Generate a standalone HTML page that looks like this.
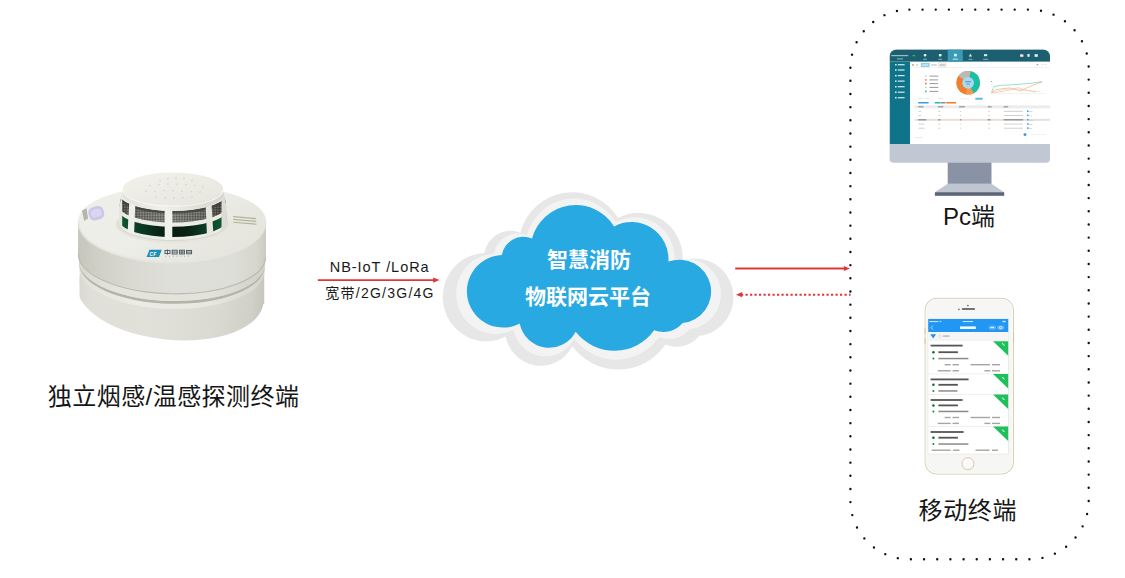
<!DOCTYPE html>
<html lang="zh-CN">
<head>
<meta charset="utf-8">
<title>智慧消防物联网云平台</title>
<style>
html,body{margin:0;padding:0;background:#fff;}
body{width:1125px;height:578px;overflow:hidden;position:relative;}
svg{position:absolute;left:0;top:0;display:block;}
text{font-family:"Liberation Sans","Noto Sans CJK SC",sans-serif;}
.cn{font-family:"Liberation Sans","Noto Sans CJK SC",sans-serif;}
</style>
</head>
<body>
<svg width="1125" height="578" viewBox="0 0 1125 578">
<defs>
<linearGradient id="gBody" x1="0" y1="0" x2="1" y2="0">
<stop offset="0" stop-color="#c6c6bd"/><stop offset="0.1" stop-color="#cfcfc6"/><stop offset="0.3" stop-color="#dadad3"/><stop offset="0.5" stop-color="#dfdfd9"/><stop offset="0.82" stop-color="#deded8"/><stop offset="0.95" stop-color="#d6d6ce"/><stop offset="1" stop-color="#cbcbc2"/>
</linearGradient>
<linearGradient id="gBase" x1="0" y1="0" x2="1" y2="0">
<stop offset="0" stop-color="#d8d8d0"/><stop offset="0.08" stop-color="#e0e0d9"/><stop offset="0.4" stop-color="#e1e1da"/><stop offset="0.75" stop-color="#dadad2"/><stop offset="0.94" stop-color="#d0d0c8"/><stop offset="1" stop-color="#c6c6bd"/>
</linearGradient>
<linearGradient id="gTop" x1="0" y1="0" x2="1" y2="0.6">
<stop offset="0" stop-color="#efefe9"/><stop offset="0.5" stop-color="#eeeee8"/><stop offset="1" stop-color="#e5e5de"/>
</linearGradient>
<linearGradient id="gCap" x1="0" y1="0" x2="1" y2="1">
<stop offset="0" stop-color="#f2f2ec"/><stop offset="1" stop-color="#e6e6de"/>
</linearGradient>
<linearGradient id="gRim" x1="0" y1="0" x2="1" y2="0">
<stop offset="0" stop-color="#e2e2da"/><stop offset="0.4" stop-color="#f0f0ea"/><stop offset="1" stop-color="#d6d6cd"/>
</linearGradient>
<linearGradient id="gMid" x1="0" y1="0" x2="1" y2="0">
<stop offset="0" stop-color="#d8d8cf"/><stop offset="0.2" stop-color="#e4e4dd"/><stop offset="0.7" stop-color="#e3e3dc"/><stop offset="1" stop-color="#d0d0c7"/>
</linearGradient>
<linearGradient id="gBev" x1="0" y1="0" x2="1" y2="0">
<stop offset="0" stop-color="#e2e2da"/><stop offset="0.3" stop-color="#ecece6"/><stop offset="0.7" stop-color="#e8e8e1"/><stop offset="1" stop-color="#d6d6cd"/>
</linearGradient>
<pattern id="pMesh" width="1.6" height="1.6" patternUnits="userSpaceOnUse"><rect width="1.6" height="1.6" fill="none"/><rect x="0" y="0" width="0.8" height="0.8" fill="#2e2f2a" opacity="0.55"/><rect x="0.8" y="0.8" width="0.8" height="0.8" fill="#d2d2ca" opacity="0.35"/></pattern>
<linearGradient id="gMesh" x1="0" y1="0" x2="1" y2="0">
<stop offset="0" stop-color="#3c3f37"/><stop offset="0.2" stop-color="#6e6f66"/><stop offset="0.5" stop-color="#7f8078"/><stop offset="0.8" stop-color="#63645c"/><stop offset="1" stop-color="#30332d"/>
</linearGradient>
<linearGradient id="gSlot" x1="0" y1="0" x2="1" y2="0">
<stop offset="0" stop-color="#0f5c33"/><stop offset="0.14" stop-color="#0b4226"/><stop offset="0.45" stop-color="#091b12"/><stop offset="0.62" stop-color="#0a1f14"/><stop offset="0.86" stop-color="#0c4528"/><stop offset="1" stop-color="#116236"/>
</linearGradient>
<clipPath id="baseClip"><rect x="79.5" y="260" width="185" height="90"/></clipPath>
<clipPath id="cageClip"><path d="M122.5 192 L119 207 L119 223 A53.8 17 0 0 0 226.6 223 L226.6 207 L223.5 192 Z"/></clipPath>
</defs>
<rect width="1125" height="578" fill="#ffffff"/>

<!-- dotted container -->
<rect id="dotbox" x="850.4" y="9.6" width="238.3" height="549.7" rx="59" ry="59" fill="none" stroke="#111" stroke-width="2.4" stroke-linecap="round" stroke-dasharray="0 13.167"/>

<!-- left arrow -->
<g id="arrowL">
<line x1="317.8" y1="280.1" x2="435" y2="280.1" stroke="#e0363b" stroke-width="1.8"/>
<path d="M433.2 277.4 L439.6 280.1 L433.2 282.8 Z" fill="#e0363b"/>
</g>
<text x="379.7" y="272.1" font-size="14.5" text-anchor="middle" fill="#1a1a1a" letter-spacing="0.95">NB-IoT /LoRa</text>
<text x="380" y="297.9" font-size="14" text-anchor="middle" fill="#1a1a1a" letter-spacing="1.25">宽带/2G/3G/4G</text>

<!-- right arrows -->
<g id="arrowR">
<line x1="735.2" y1="268.5" x2="846" y2="268.5" stroke="#e0363b" stroke-width="1.9"/>
<path d="M843.8 265.9 L850 268.5 L843.8 271.1 Z" fill="#e0363b"/>
<line x1="741" y1="294.7" x2="850.6" y2="294.7" stroke="#e0363b" stroke-width="1.9" stroke-dasharray="2.2 2.3"/>
<path d="M742.2 292.1 L736 294.7 L742.2 297.3 Z" fill="#e0363b"/>
</g>

<!-- labels -->
<text x="173.6" y="404.5" font-size="24" letter-spacing="0.45" text-anchor="middle" fill="#161616">独立烟感/温感探测终端</text>
<text x="969" y="225" font-size="24" text-anchor="middle" fill="#161616">Pc端</text>
<text x="967.8" y="518.5" font-size="24" letter-spacing="0.6" text-anchor="middle" fill="#161616">移动终端</text>

<!--CLOUD-->
<g id="cloud">
<path id="cl3" transform="translate(588.7 280.8) scale(1.19 1.217) translate(-589.5 -277.9)" d="M501.8 255 A22 22 0 0 1 532 238.5 A45.3 45.3 0 0 1 614.1 226.4 A37 37 0 0 1 668.4 261.6 A31.8 31.8 0 1 1 682.6 323.1 A25 25 0 0 1 654.1 330.3 A48.7 48.7 0 0 1 575.7 331.7 A30 30 0 0 1 519.7 323.6 A36.3 36.3 0 1 1 501.8 255 Z" fill="#e7e7e7"/>
<path id="cl2" transform="translate(589.1 279) scale(1.084 1.106) translate(-589.5 -277.9)" d="M501.8 255 A22 22 0 0 1 532 238.5 A45.3 45.3 0 0 1 614.1 226.4 A37 37 0 0 1 668.4 261.6 A31.8 31.8 0 1 1 682.6 323.1 A25 25 0 0 1 654.1 330.3 A48.7 48.7 0 0 1 575.7 331.7 A30 30 0 0 1 519.7 323.6 A36.3 36.3 0 1 1 501.8 255 Z" fill="#f3f3f3"/>
<path id="cl1" d="M501.8 255 A22 22 0 0 1 532 238.5 A45.3 45.3 0 0 1 614.1 226.4 A37 37 0 0 1 668.4 261.6 A31.8 31.8 0 1 1 682.6 323.1 A25 25 0 0 1 654.1 330.3 A48.7 48.7 0 0 1 575.7 331.7 A30 30 0 0 1 519.7 323.6 A36.3 36.3 0 1 1 501.8 255 Z" fill="#29a9e1"/>
<text x="589" y="266.8" font-size="21" font-weight="bold" text-anchor="middle" fill="#ffffff">智慧消防</text>
<text x="588" y="303.8" font-size="21" font-weight="bold" text-anchor="middle" fill="#ffffff">物联网云平台</text>
</g>
<!--DETECTOR-->
<g id="detector">
<!-- base -->
<g clip-path="url(#baseClip)">
<path d="M79.5 266 L264.5 268 L264.5 304 L79.5 285 Z" fill="url(#gBase)"/>
<ellipse cx="170.4" cy="293.5" rx="93.6" ry="46.3" transform="rotate(5.7 170.4 293.5)" fill="url(#gBase)"/>
</g>
<!-- base top bevel -->
<path d="M79.5 262.95 A92.5 39 1 0 0 264.5 266.25 L264.5 271.15 A92.5 39.5 1 0 1 79.5 267.85 Z" fill="url(#gBev)"/>
<!-- seam 2 shadow -->
<path d="M79.2 260.85 A92.8 38.5 1 0 0 264.8 264.15 L264.8 266.45 A92.8 39 1 0 1 79.2 263.15 Z" fill="#b4b4aa"/>
<!-- middle ring -->
<path d="M78.8 252.85 A93.2 38.5 1 0 0 265.2 256.15 L265.2 264.15 A93.2 38.5 1 0 1 78.8 260.85 Z" fill="url(#gMid)"/>
<!-- upper body wall -->
<path d="M78 221 L78 252.85 A94 38.5 1 0 0 266 256.15 L266 221 Z" fill="url(#gBody)"/>
<path d="M78.4 253.65 A93.6 38.5 1 0 0 265.6 256.95" fill="none" stroke="#b9b9af" stroke-width="1.1"/>
<!-- top surface with shoulder -->
<path d="M78 221 A94 35 0 0 1 266 221 A94 41.5 0 0 1 78 221 Z" fill="url(#gTop)"/>
<path d="M78.6 222 A93.4 40.5 0 0 0 265.4 222" fill="none" stroke="#e6e6df" stroke-width="2" opacity="0.9"/>
<!-- recess around cage -->
<ellipse cx="172.8" cy="224.5" rx="57.5" ry="18.6" fill="#e6e6de"/>
<ellipse cx="172.8" cy="223.6" rx="55.2" ry="17.6" fill="#d9d9d0"/>
<!-- cage -->
<g clip-path="url(#cageClip)">
<rect x="115" y="190" width="116" height="54" fill="#ecece6"/>
<path d="M119.5 194.5 A53.3 16.5 0 0 0 226.1 194.5 L226.1 206.5 A53.3 16 0 0 1 119.5 206.5 Z" fill="url(#gMesh)"/>
<path d="M119.5 194.5 A53.3 16.5 0 0 0 226.1 194.5 L226.1 206.5 A53.3 16 0 0 1 119.5 206.5 Z" fill="url(#pMesh)"/>
<path d="M119.5 194.5 A53.3 16.5 0 0 0 226.1 194.5 L226.1 197 A53.3 16.5 0 0 1 119.5 197 Z" fill="#3c3d37" opacity="0.75"/>
<path d="M119.3 210.5 A53.5 16.3 0 0 0 226.3 210.5 L226.3 220.5 A53.5 16.6 0 0 1 119.3 220.5 Z" fill="url(#gSlot)"/>
<!-- ribs -->
<path d="M129.5 198 L135.4 202 L134 236 L127.6 232 Z" fill="#efefe9"/>
<path d="M164.7 206 L172.3 206 L172.3 242 L164.7 242 Z" fill="#f1f1eb"/>
<path d="M205.5 202 L211.1 198 L213.3 232 L207 236 Z" fill="#e6e6df"/>
<path d="M118 190 L122.2 190 L122.2 230 L118 228 Z" fill="#e6e6df"/>
<path d="M221.5 190 L227 190 L227 228 L221.5 231 Z" fill="#dcdcd4"/>
</g>
<!-- cap -->
<path d="M123 188.8 L122.7 194.5 A50.3 16.5 0 0 0 223.3 194.5 L223 188.8 Z" fill="url(#gRim)"/>
<ellipse cx="173" cy="188.8" rx="50" ry="16.2" fill="url(#gCap)"/>
<path d="M123.2 190 A49.8 16.2 0 0 0 222.8 190" fill="none" stroke="#f8f8f4" stroke-width="1.2" opacity="0.9"/>
<g fill="#d3d3ca">
<circle cx="160" cy="180.5" r="0.85"/><circle cx="168" cy="178.5" r="0.85"/><circle cx="176" cy="178" r="0.85"/><circle cx="184" cy="178.5" r="0.85"/><circle cx="192" cy="180.5" r="0.85"/>
<circle cx="150" cy="185.5" r="0.85"/><circle cx="159" cy="184.5" r="0.85"/><circle cx="168" cy="184" r="0.85"/><circle cx="177" cy="184" r="0.85"/><circle cx="186" cy="184.5" r="0.85"/><circle cx="195" cy="185.5" r="0.85"/><circle cx="203" cy="187" r="0.85"/>
<circle cx="146" cy="191" r="0.85"/><circle cx="155" cy="191.5" r="0.85"/><circle cx="164" cy="190.5" r="0.85"/><circle cx="173" cy="190.5" r="0.85"/><circle cx="182" cy="191" r="0.85"/><circle cx="191" cy="191.5" r="0.85"/><circle cx="200" cy="192" r="0.85"/>
<circle cx="156" cy="197" r="0.85"/><circle cx="165" cy="197.5" r="0.85"/><circle cx="174" cy="198" r="0.85"/><circle cx="183" cy="197.5" r="0.85"/><circle cx="192" cy="196.5" r="0.85"/>
</g>
<!-- LED -->
<rect x="88.5" y="206.5" width="15.5" height="13.5" rx="5.5" ry="5.5" fill="#cbc7ea" transform="rotate(-14 96 213)"/>
<rect x="91" y="209.3" width="10.5" height="7.8" rx="3" ry="3" fill="#d9d6f2" transform="rotate(-14 96 213)"/>
<path d="M82 210.5 L86.5 208.2 L88 218.5 L84.2 221 Z" fill="#b5b5ab"/>
<!-- three lines -->
<g stroke="#b2b39a" stroke-width="1.1" fill="none">
<path d="M233.2 216.6 L256 218.6"/><path d="M233.2 219.4 L256.3 221.4"/><path d="M233.2 222.2 L256.6 224.2"/>
</g>
<!-- logo -->
<path d="M149.5 249.8 L161.8 249.8 L159 257 L146.6 257 Z" fill="#1e8fb8"/>
<text x="149.6" y="255.7" font-size="5" font-weight="bold" font-style="italic" fill="#ffffff">CF</text>
<g fill="none" stroke="#46525c" stroke-width="0.9"><rect x="165" y="250.4" width="5" height="3.2"/><path d="M167.5 249.6 V254.6"/><rect x="172.2" y="250.2" width="5" height="3.8"/><path d="M172.2 252.1 H177.2"/><rect x="179.4" y="250.2" width="5" height="3.8"/><path d="M179.4 252.1 H184.4 M181.9 250.2 V254"/><rect x="186.6" y="250.4" width="5" height="3.4"/><path d="M186.6 252.1 H191.6"/></g>
<g fill="#9aa3aa"><rect x="165.2" y="255.7" width="1" height="0.9"/><rect x="169" y="255.7" width="1" height="0.9"/><rect x="172.8" y="255.7" width="1" height="0.9"/><rect x="176.6" y="255.7" width="1" height="0.9"/><rect x="180.4" y="255.7" width="1" height="0.9"/><rect x="184.2" y="255.7" width="1" height="0.9"/><rect x="188" y="255.7" width="1" height="0.9"/></g>
</g>
<!--MONITOR-->
<g id="monitor">
<!-- stand -->
<rect x="947.7" y="160" width="43.8" height="23.9" fill="#8a93a6"/>
<path d="M947.7 183.8 L991.5 183.8 L1004.2 192.3 L934.9 192.3 Z" fill="#c0c6d1"/>
<rect x="934.9" y="192.2" width="69.3" height="3.6" fill="#5c6577"/>
<!-- body -->
<path d="M889.6 56.4 A7 7 0 0 1 896.6 49.4 L1043 49.4 A7 7 0 0 1 1050 56.4 L1050 158.7 A4 4 0 0 1 1046 162.7 L893.6 162.7 A4 4 0 0 1 889.6 158.7 Z" fill="#c2c8d3"/>
<clipPath id="scrClip"><path d="M889.6 56.4 A7 7 0 0 1 896.6 49.4 L1043 49.4 A7 7 0 0 1 1050 56.4 L1050 144.1 L889.6 144.1 Z"/></clipPath>
<g clip-path="url(#scrClip)">
<rect x="889.6" y="49.4" width="160.4" height="94.7" fill="#ffffff"/>
<rect x="889.6" y="49.4" width="160.4" height="12.2" fill="#1c5f70"/>
<rect x="889.6" y="61.6" width="20.4" height="82.5" fill="#0f7489"/>
<rect x="947.7" y="49.4" width="15.1" height="12.2" fill="#3a9bb7"/>
<!-- header marks -->
<g fill="#8fc0cc">
<rect x="891.2" y="55" width="17" height="1.2"/><rect x="897" y="58.4" width="6" height="1"/>
<rect x="923.2" y="58.8" width="3.6" height="0.9"/><rect x="938.4" y="58.8" width="3.6" height="0.9"/><rect x="968.6" y="58.8" width="3.6" height="0.9"/><rect x="983.2" y="58.8" width="5" height="0.9"/>
</g>
<rect x="952.8" y="58.6" width="5" height="1" fill="#cfe8ef"/>
<g fill="#e6f3f6">
<rect x="923.8" y="54" width="2.6" height="2.4" rx="0.8"/><rect x="938.9" y="54" width="2.6" height="2.4"/><rect x="954" y="53.8" width="2.8" height="2.6"/><path d="M970.4 53.8 L972 56.6 L968.8 56.6 Z"/><rect x="984" y="54.2" width="3.2" height="2"/>
<rect x="1020.2" y="54.2" width="3.2" height="2.6"/><rect x="1027.4" y="54" width="2.2" height="2.8"/><rect x="1034.6" y="54.2" width="3.2" height="2.6"/>
</g>
<rect x="1022.4" y="53.8" width="1.4" height="1.2" fill="#e5483f"/><rect x="1028.8" y="53.8" width="1.2" height="1.2" fill="#f29a3c"/>
<rect x="912.6" y="55" width="2.4" height="1.3" fill="#35c24a"/>
<!-- sidebar items -->
<g fill="#d6ecf1">
<rect x="895" y="64" width="1.6" height="1.5"/><rect x="897.8" y="64.1" width="6.8" height="1.2"/>
<rect x="895" y="69.3" width="1.6" height="1.5"/><rect x="897.8" y="69.4" width="6.8" height="1.2"/>
<rect x="895" y="74.9" width="1.6" height="1.5"/><rect x="897.8" y="75" width="6.8" height="1.2"/>
<rect x="895" y="80.4" width="1.6" height="1.5"/><rect x="897.8" y="80.5" width="6.8" height="1.2"/>
<rect x="895" y="86" width="1.6" height="1.5"/><rect x="897.8" y="86.1" width="6.8" height="1.2"/>
<rect x="895" y="91.5" width="1.6" height="1.5"/><rect x="897.8" y="91.6" width="6.8" height="1.2"/>
<rect x="895" y="97" width="1.6" height="1.5"/><rect x="897.8" y="97.1" width="6.8" height="1.2"/>
</g>
<!-- tab row -->
<rect x="920.8" y="62.8" width="8.8" height="4.4" fill="#8fd0ea"/>
<rect x="938.6" y="62.9" width="7.6" height="4.2" fill="#f2f2f2" stroke="#cfcfcf" stroke-width="0.4"/>
<rect x="912.2" y="64.4" width="1.6" height="1.2" fill="#7a7a7a"/><rect x="915.8" y="64.6" width="2.4" height="0.9" fill="#e8a26a"/>
<rect x="931.2" y="64.5" width="5.6" height="1" fill="#b5b5b5"/><rect x="939.6" y="64.5" width="5.6" height="1" fill="#a8a8a8"/>
<rect x="922.2" y="64.5" width="6" height="1" fill="#e9f6fb"/>
<rect x="1036.6" y="64.2" width="1.6" height="1" fill="#888"/><rect x="1041" y="64.5" width="6" height="0.6" fill="#ddd"/>
<rect x="910" y="67.5" width="140" height="0.5" fill="#e6e6e6"/>
<!-- legend -->
<rect x="925.1" y="75.3" width="1.5" height="1.5" fill="#a9d7f0"/><rect x="925.1" y="79" width="1.5" height="1.7" fill="#f0893a"/><rect x="925.1" y="82.7" width="1.5" height="1.7" fill="#ee6c1f"/><rect x="925.3" y="86.7" width="1.2" height="1.3" fill="#b9b9b9"/><rect x="925.1" y="90.6" width="1.5" height="1.6" fill="#18bfa4"/>
<g fill="#9a9a9a"><rect x="929.4" y="75.6" width="9" height="1"/><rect x="929.4" y="79.4" width="8.6" height="1"/><rect x="929.4" y="83.1" width="8.6" height="1"/><rect x="929.4" y="86.9" width="9" height="1"/><rect x="929.4" y="90.9" width="9" height="1"/></g>
<!-- donut -->
<g transform="translate(968.1 82.8)">
<circle r="11.8" fill="#f07f2c"/>
<path d="M0 0 L2.6 -11.5 A11.8 11.8 0 0 1 5.6 10.4 Z" fill="#18c0a6"/>
<path d="M0 0 L-9.6 -6.9 A11.8 11.8 0 0 1 2.6 -11.5 Z" fill="#b9b9b9"/>
<path d="M0 0 L-2 11.6 A11.8 11.8 0 0 0 5.6 10.4 Z" fill="#f39a4e"/>
<circle r="5.9" fill="#a8d9f2"/>
<rect x="-3" y="-1.6" width="6" height="1" fill="#5a8fb0"/><rect x="-1.6" y="0.8" width="3.2" height="0.9" fill="#5a8fb0"/>
</g>
<!-- line chart -->
<g fill="none" stroke-width="0.5">
<path d="M991.5 92.5 L994 86.5 L1001 85.3 L1012 84.8 L1022 84 L1032 83.2 L1042 81.6" stroke="#38b8b0"/>
<path d="M991.5 92.6 L996 89.6 L1003 88.6 L1010 88 L1016 89.6 L1021 91 L1027 87.8 L1035 84.4 L1042 82" stroke="#e8914a"/>
<path d="M991.5 92.7 L998 90.8 L1006 89.4 L1014 88.8 L1022 89.6 L1030 90.6 L1040 91.6" stroke="#f3c9a0"/>
<path d="M991.5 92.9 L1000 91.8 L1010 90 L1018 87.6 L1026 90.4 L1036 92" stroke="#d9b48a"/>
<path d="M990.8 93.4 L1045.5 93.4" stroke="#e3e3e3"/>
</g>
<circle cx="991.6" cy="81.4" r="0.5" fill="#777"/>
<!-- filter row & buttons -->
<g fill="#dedede"><rect x="918.5" y="98.3" width="5" height="0.7"/><rect x="925.5" y="98.1" width="3" height="0.9"/><rect x="938" y="98.3" width="5" height="0.7"/><rect x="960" y="98.6" width="9" height="0.6"/></g>
<rect x="975.4" y="97.8" width="7.2" height="2" rx="0.5" fill="#55bfe6"/>
<rect x="918.2" y="102" width="10.4" height="1.5" fill="#3a9ee0"/><rect x="934.8" y="102" width="5.8" height="1.5" fill="#1dbfa6"/><rect x="940.9" y="102" width="4.6" height="1.5" fill="#8a8f94"/><rect x="946.2" y="102" width="9.8" height="1.5" fill="#ee7b2a"/>
<!-- table -->
<rect x="914.5" y="105.4" width="135.5" height="2.9" fill="#ececec"/>
<g fill="#777"><rect x="918.2" y="106.4" width="5.4" height="0.9"/><rect x="937.9" y="106.4" width="5.4" height="0.9"/><rect x="959" y="106.4" width="6" height="0.9"/><rect x="987.8" y="106.4" width="3.8" height="0.9"/><rect x="1003.6" y="106.4" width="4.6" height="0.9"/></g>
<rect x="914.5" y="118.9" width="135.5" height="1.9" fill="#e6dfda"/>
<g fill="#bdbdbd">
<rect x="918.6" y="110.9" width="2.4" height="0.7"/><rect x="938.2" y="110.9" width="2" height="0.7"/><rect x="960" y="110.9" width="1.2" height="0.7"/><rect x="988" y="110.9" width="1.8" height="0.7"/><rect x="1003.8" y="110.9" width="19" height="0.7"/>
<rect x="918.6" y="115" width="2.4" height="0.7"/><rect x="938.2" y="115" width="2" height="0.7"/><rect x="960" y="115" width="1.2" height="0.7"/><rect x="988" y="115" width="1.8" height="0.7"/><rect x="1003.8" y="115" width="19" height="0.7"/>
<rect x="918.6" y="123.7" width="5.6" height="0.7"/><rect x="938.2" y="123.7" width="2" height="0.7"/><rect x="960" y="123.7" width="1.2" height="0.7"/><rect x="988" y="123.7" width="1.8" height="0.7"/><rect x="1003.8" y="123.7" width="19" height="0.7"/>
<rect x="918.6" y="127.8" width="6" height="0.7"/><rect x="938.2" y="127.8" width="2" height="0.7"/><rect x="960" y="127.8" width="1.2" height="0.7"/><rect x="988" y="127.8" width="1.8" height="0.7"/><rect x="1003.8" y="127.8" width="19" height="0.7"/>
</g>
<g fill="#6b6b6b"><rect x="918.2" y="119.4" width="8" height="0.9"/><rect x="938.2" y="119.4" width="2.2" height="0.9"/><rect x="960" y="119.4" width="1.4" height="0.9"/><rect x="987.6" y="119.4" width="3" height="0.9"/><rect x="1003.6" y="119.4" width="19.6" height="0.9"/></g>
<g fill="#4aa3e0"><rect x="1027" y="110.4" width="1.6" height="1.6"/><rect x="1027" y="114.5" width="1.6" height="1.6"/><rect x="1027" y="118.9" width="1.6" height="1.6"/><rect x="1027" y="123.2" width="1.6" height="1.6"/><rect x="1027" y="127.3" width="1.6" height="1.6"/></g>
<g fill="#9fd0ee"><rect x="1029" y="111.4" width="3.6" height="0.6"/><rect x="1029" y="115.6" width="3" height="0.6"/><rect x="1029" y="119.9" width="4" height="0.6"/><rect x="1029" y="124.2" width="3.4" height="0.6"/><rect x="1029" y="128.3" width="3" height="0.6"/></g>
<circle cx="1025" cy="134.4" r="1.5" fill="#3a9ee8"/>
<rect x="914" y="137" width="9" height="0.6" fill="#e2e2e2"/><rect x="1030" y="134.2" width="16" height="0.5" fill="#e8e8e8"/>
</g>
</g>
<!--PHONE-->
<g id="phone">
<rect x="925.2" y="298.3" width="88.2" height="175.7" rx="11.5" ry="11.5" fill="#f6f6f4" stroke="#d6caa9" stroke-width="1"/>
<rect x="926.2" y="299.3" width="86.2" height="173.7" rx="10.6" ry="10.6" fill="none" stroke="#fbfbfa" stroke-width="1"/>
<rect x="1013.2" y="333" width="0.9" height="9" fill="#cfc3a2"/><rect x="924.5" y="328" width="0.9" height="6" fill="#cfc3a2"/><rect x="924.5" y="338" width="0.9" height="6" fill="#cfc3a2"/>
<!-- speaker -->
<line x1="962.4" y1="309" x2="974.4" y2="309" stroke="#4a4a4a" stroke-width="1.3" stroke-linecap="round"/>
<circle cx="967.9" cy="305.5" r="0.8" fill="#555"/><circle cx="958.9" cy="309.4" r="0.8" fill="#666"/>
<!-- screen -->
<rect x="927.8" y="318.6" width="80.8" height="135.6" fill="#dcdcdc"/>
<rect x="928.2" y="319" width="80" height="134.8" fill="#ffffff"/>
<rect x="928.2" y="319" width="80" height="13" fill="#2196f3"/>
<g fill="#bfe0fb"><rect x="929.4" y="321" width="9" height="1.1"/><rect x="939.6" y="320.9" width="1.6" height="1.2"/><rect x="962.6" y="321" width="10.4" height="1.1"/><rect x="1002.4" y="320.8" width="3.4" height="1.4" rx="0.5"/></g>
<path d="M932.6 325.8 L931.2 327.7 L932.6 329.6" fill="none" stroke="#e6f3fe" stroke-width="0.7"/>
<rect x="960" y="326.4" width="15.8" height="2.6" fill="#f2f9ff"/>
<rect x="988.6" y="325.4" width="7.4" height="4.4" rx="2.2" fill="#5fb4f7"/><rect x="997" y="325.4" width="7.4" height="4.4" rx="2.2" fill="#5fb4f7"/>
<rect x="990.4" y="327.2" width="3.6" height="0.8" fill="#fff"/><circle cx="1000.7" cy="327.6" r="1.2" fill="none" stroke="#fff" stroke-width="0.6"/>
<!-- filter row -->
<rect x="928.2" y="332" width="80" height="8.1" fill="#f6f6f6"/>
<path d="M930.3 334.2 L936.1 334.2 L933.2 338.6 Z" fill="#1f8fe8"/>
<rect x="938.6" y="334.8" width="2.6" height="2.6" rx="0.5" fill="none" stroke="#c8c8c8" stroke-width="0.4"/><rect x="943" y="335.4" width="6.6" height="1.4" fill="#b5b5b5"/>
<rect x="928.2" y="339.8" width="80" height="0.6" fill="#e7e7e7"/>
<rect x="930.6" y="344.7" width="32" height="1.8" fill="#555"/>
<path d="M993 341.2 L1008.2 341.2 L1008.2 355.7 Z" fill="#1fbf5c"/>
<rect x="1001.6" y="343.9" width="3.4" height="1" fill="#c9f2d8" transform="rotate(44 1003.3 344.4)"/>
<circle cx="933.4" cy="352.2" r="1.25" fill="#0d6a2a"/>
<rect x="938.4" y="351.3" width="19.5" height="1.8" fill="#555"/>
<circle cx="933.4" cy="358.6" r="1" fill="#17853a"/>
<rect x="938.4" y="357.8" width="30" height="1.5" fill="#8a8a8a"/>
<rect x="944.6" y="364.0" width="6" height="1.4" fill="#a5a5a5"/>
<rect x="952.5" y="364.0" width="6.5" height="1.4" fill="#a5a5a5"/>
<rect x="970.5" y="364.0" width="19.5" height="1.4" fill="#a5a5a5"/>
<rect x="992" y="364.0" width="8" height="1.4" fill="#a5a5a5"/>
<rect x="937.7" y="370.1" width="13" height="1.4" fill="#a5a5a5"/>
<rect x="952.5" y="370.1" width="6.5" height="1.4" fill="#a5a5a5"/>
<rect x="984.4" y="370.1" width="6" height="1.4" fill="#a5a5a5"/>
<rect x="992" y="370.1" width="8" height="1.4" fill="#a5a5a5"/>
<rect x="928.2" y="373.6" width="80" height="0.6" fill="#e7e7e7"/>
<rect x="930.6" y="378.5" width="38" height="1.8" fill="#555"/>
<path d="M993 373.9 L1008.2 373.9 L1008.2 388.5 Z" fill="#1fbf5c"/>
<rect x="1001.6" y="377.7" width="3.4" height="1" fill="#c9f2d8" transform="rotate(44 1003.3 378.2)"/>
<circle cx="933.4" cy="384.8" r="1.25" fill="#0d6a2a"/>
<rect x="938.4" y="383.9" width="19.5" height="1.8" fill="#555"/>
<circle cx="933.4" cy="391.0" r="1" fill="#17853a"/>
<rect x="938.4" y="390.2" width="19" height="1.5" fill="#8a8a8a"/>
<rect x="928.2" y="394.2" width="80" height="0.6" fill="#e7e7e7"/>
<rect x="930.6" y="399.1" width="32" height="1.8" fill="#555"/>
<path d="M993 394.5 L1008.2 394.5 L1008.2 409.1 Z" fill="#1fbf5c"/>
<rect x="1001.6" y="398.3" width="3.4" height="1" fill="#c9f2d8" transform="rotate(44 1003.3 398.8)"/>
<circle cx="933.4" cy="405.4" r="1.25" fill="#0d6a2a"/>
<rect x="938.4" y="404.5" width="19.5" height="1.8" fill="#555"/>
<circle cx="933.4" cy="411.5" r="1" fill="#17853a"/>
<rect x="938.4" y="410.7" width="30" height="1.5" fill="#8a8a8a"/>
<rect x="944.6" y="416.8" width="6" height="1.4" fill="#a5a5a5"/>
<rect x="952.5" y="416.8" width="6.5" height="1.4" fill="#a5a5a5"/>
<rect x="970.5" y="416.8" width="19.5" height="1.4" fill="#a5a5a5"/>
<rect x="992" y="416.8" width="8" height="1.4" fill="#a5a5a5"/>
<rect x="937.7" y="422.7" width="13" height="1.4" fill="#a5a5a5"/>
<rect x="952.5" y="422.7" width="6.5" height="1.4" fill="#a5a5a5"/>
<rect x="984.4" y="422.7" width="6" height="1.4" fill="#a5a5a5"/>
<rect x="992" y="422.7" width="8" height="1.4" fill="#a5a5a5"/>
<rect x="928.2" y="426.2" width="80" height="0.6" fill="#e7e7e7"/>
<rect x="930.6" y="431.1" width="33" height="1.8" fill="#555"/>
<path d="M993 426.5 L1008.2 426.5 L1008.2 441.1 Z" fill="#1fbf5c"/>
<rect x="1001.6" y="430.3" width="3.4" height="1" fill="#c9f2d8" transform="rotate(44 1003.3 430.8)"/>
<circle cx="933.4" cy="437.7" r="1.25" fill="#0d6a2a"/>
<rect x="938.4" y="436.8" width="19.5" height="1.8" fill="#555"/>
<circle cx="933.4" cy="444.1" r="1" fill="#17853a"/>
<rect x="938.4" y="443.3" width="30" height="1.5" fill="#8a8a8a"/>
<rect x="931.6" y="449.5" width="19" height="1.4" fill="#a5a5a5"/>
<rect x="953" y="449.5" width="6.5" height="1.4" fill="#a5a5a5"/>
<rect x="975.5" y="449.5" width="14" height="1.4" fill="#a5a5a5"/>
<rect x="992" y="449.5" width="6" height="1.4" fill="#a5a5a5"/>
<!-- home -->
<circle cx="967.9" cy="463.7" r="6" fill="#fbfbfa" stroke="#d6caa9" stroke-width="1"/>
</g>
</svg>
</body>
</html>
